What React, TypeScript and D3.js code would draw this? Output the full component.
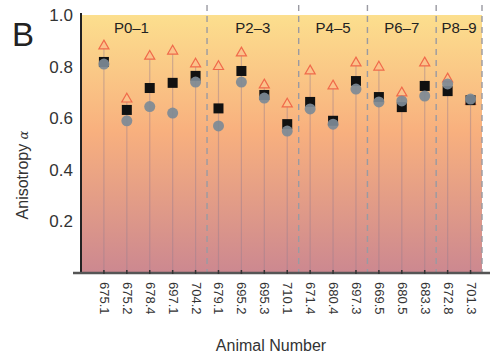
import { useEffect, useRef } from 'react';
import * as d3 from 'd3';

const animals = ['675.1', '675.2', '678.4', '697.1', '704.2', '679.1', '695.2', '695.3', '710.1',
  '671.4', '680.4', '697.3', '669.5', '680.5', '683.3', '672.8', '701.3'];
const triangleVals = [0.88, 0.674, 0.84, 0.86, 0.81, 0.8, 0.853, 0.729, 0.655,
  0.783, 0.725, 0.814, 0.798, 0.698, 0.814, 0.752, 0.665];
const squareVals = [0.818, 0.632, 0.717, 0.737, 0.764, 0.638, 0.783, 0.69, 0.577,
  0.663, 0.59, 0.744, 0.682, 0.643, 0.725, 0.705, 0.67];
const circleVals = [0.81, 0.59, 0.645, 0.62, 0.74, 0.57, 0.74, 0.678, 0.55,
  0.636, 0.577, 0.713, 0.663, 0.667, 0.686, 0.733, 0.674];
const groupNames = ['P0\u20131', 'P2\u20133', 'P4\u20135', 'P6\u20137', 'P8\u20139'];
const groupLabelPos = [1.2, 6.5, 10, 13, 15.5];
const dividers = [4.5, 8.5, 11.5, 14.5, 16.5];
const yTicks = [0.2, 0.4, 0.6, 0.8, 1.0];

const App = () => {
  const svgRef = useRef<SVGSVGElement>(null);

  useEffect(() => {
    const svg = d3.select(svgRef.current);
    svg.selectAll('*').remove();

    const x = d3.scaleLinear().domain([-1, 16.5]).range([81, 482]);
    const y = d3.scaleLinear().domain([0, 1]).range([273, 15]);

    const defs = svg.append('defs');
    const grad = defs.append('linearGradient')
      .attr('id', 'bg').attr('x1', 0).attr('x2', 0).attr('y1', 0).attr('y2', 1);
    grad.append('stop').attr('offset', '0%').attr('stop-color', '#fcdf8e');
    grad.append('stop').attr('offset', '45%').attr('stop-color', '#f8b07e');
    grad.append('stop').attr('offset', '100%').attr('stop-color', '#cc8890');

    svg.append('rect')
      .attr('x', x(-1)).attr('y', y(1))
      .attr('width', x(16.5) - x(-1)).attr('height', y(0) - y(1))
      .attr('fill', 'url(#bg)');

    // stems
    svg.selectAll('.stem').data(animals).enter().append('line')
      .attr('x1', (_, i) => x(i)).attr('x2', (_, i) => x(i))
      .attr('y1', y(0)).attr('y2', (_, i) => y(triangleVals[i]))
      .attr('stroke', '#9a7f8e').attr('stroke-opacity', 0.45).attr('stroke-width', 1.2);

    // dividers
    svg.selectAll('.div').data(dividers).enter().append('line')
      .attr('x1', d => x(d)).attr('x2', d => x(d))
      .attr('y1', 5).attr('y2', y(0))
      .attr('stroke', '#9a9aa2').attr('stroke-width', 1.4).attr('stroke-dasharray', '6,5');

    // group labels
    svg.selectAll('.grp').data(groupNames).enter().append('text')
      .attr('x', (_, i) => x(groupLabelPos[i])).attr('y', 33)
      .attr('text-anchor', 'middle')
      .attr('font-family', 'Liberation Sans, Arial, sans-serif').attr('font-size', 15)
      .attr('fill', '#222').text(d => d);

    // triangles
    const tri = d3.symbol().type(d3.symbolTriangle).size(44);
    svg.selectAll('.tri').data(triangleVals).enter().append('path')
      .attr('d', tri)
      .attr('transform', (d, i) => `translate(${x(i)},${y(d)})`)
      .attr('fill', '#fbc28a').attr('stroke', '#f06a4a').attr('stroke-width', 1.2);

    // squares
    svg.selectAll('.sq').data(squareVals).enter().append('rect')
      .attr('x', (_, i) => x(i) - 5).attr('y', d => y(d) - 5)
      .attr('width', 10).attr('height', 10).attr('fill', '#111');

    // circles
    svg.selectAll('.circ').data(circleVals).enter().append('circle')
      .attr('cx', (_, i) => x(i)).attr('cy', d => y(d)).attr('r', 5.5)
      .attr('fill', '#7d8a96').attr('fill-opacity', 0.92);

    // axes
    const font = 'Liberation Sans, Arial, sans-serif';
    svg.append('line').attr('x1', x(-1)).attr('x2', x(-1)).attr('y1', y(1) - 2).attr('y2', y(0) + 1)
      .attr('stroke', '#222').attr('stroke-width', 2);
    svg.append('line').attr('x1', x(-1) - 8).attr('x2', 490).attr('y1', y(0)).attr('y2', y(0))
      .attr('stroke', '#555').attr('stroke-width', 2.5);

    svg.selectAll('.ytl').data(yTicks).enter().append('text')
      .attr('x', 73).attr('y', d => y(d) + 6).attr('text-anchor', 'end')
      .attr('font-family', font).attr('font-size', 17).attr('fill', '#333')
      .text(d => d.toFixed(1));

    svg.selectAll('.xt').data(animals).enter().append('line')
      .attr('x1', (_, i) => x(i)).attr('x2', (_, i) => x(i))
      .attr('y1', y(0) - 3).attr('y2', y(0) + 1)
      .attr('stroke', '#333').attr('stroke-width', 1.5);

    svg.selectAll('.xtl').data(animals).enter().append('text')
      .attr('transform', (_, i) => `translate(${x(i) - 4},${y(0) + 9}) rotate(90)`)
      .attr('font-family', font).attr('font-size', 13).attr('fill', '#333')
      .text(d => d);

    svg.append('text').attr('x', 271).attr('y', 351)
      .attr('text-anchor', 'middle').attr('font-family', font).attr('font-size', 16).attr('fill', '#333')
      .text('Animal Number');

    const yl = svg.append('text')
      .attr('transform', 'translate(28,175) rotate(-90)')
      .attr('text-anchor', 'middle').attr('font-family', font).attr('font-size', 16).attr('fill', '#333');
    yl.append('tspan').text('Anisotropy ');
    yl.append('tspan').attr('font-style', 'italic').attr('font-family', 'DejaVu Serif, serif').attr('font-size', 13).text('\u03b1');

    svg.append('text').attr('x', 12).attr('y', 46)
      .attr('font-family', font).attr('font-size', 33).attr('fill', '#222').text('B');
  }, []);

  return <svg ref={svgRef} width={504} height={361} style={{ position: 'absolute', left: 0, top: 0 }} />;
};

export default App;
